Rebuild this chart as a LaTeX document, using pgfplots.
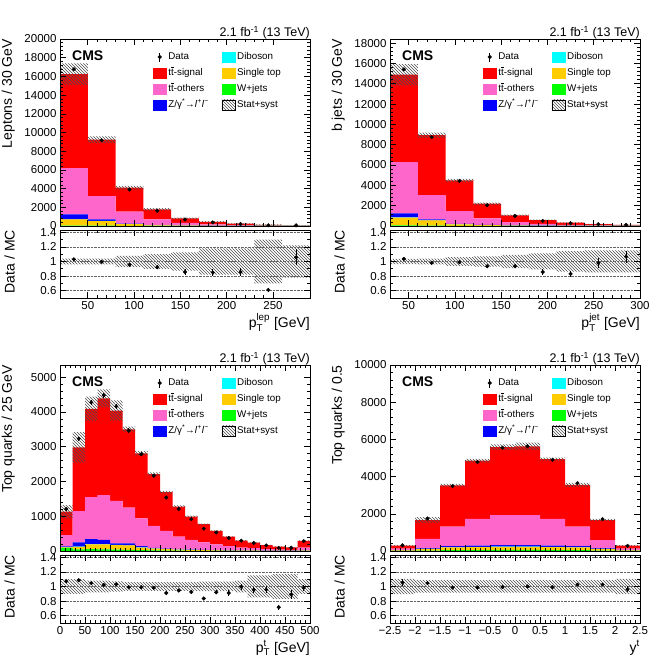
\documentclass[border=0pt]{standalone}
\usepackage{amsmath}
\usepackage{fontspec}
\setmainfont{Liberation Sans}
\usepackage{pgfplots}
\usepackage{pgfplotstable}
\pgfplotsset{compat=1.18}
\usetikzlibrary{patterns}

\definecolor{sigcol}{RGB}{255,0,0}
\definecolor{othcol}{RGB}{255,102,204}
\definecolor{dycol}{RGB}{0,0,255}
\definecolor{vvcol}{RGB}{0,255,255}
\definecolor{stcol}{RGB}{255,204,0}
\definecolor{wjcol}{RGB}{0,255,0}
\colorlet{hatchcol}{black!70}

% columns: bin centre, stacked backgrounds/signal, MC uncertainty (abs), data, data error,
% data/MC ratio, ratio error, relative MC uncertainty
\pgfplotstableread{
x    wj   st   vv   dy   oth   sig    eunc  data   derr  ratio  rerr   runc
35   50   650  20   520  4960  10050  1150  16770  130   1.03   0.008  0.04
65   30   500  15   170  2480  6040   360   9170   96    0.995  0.011  0.04
95   15   180  8    60   1270  2560   200   3900   62    0.955  0.016  0.077
125  8    70   4    25   590   1080   130   1630   40    0.92   0.025  0.10
155  4    30   2    12   290   470    80    690    26    0.855  0.035  0.125
185  2    15   1    6    150   280    60    386    20    0.85   0.045  0.18
215  1    8    1    3    85    150    40    212    15    0.855  0.06   0.18
245  1    4    0.5  2    45    75     35    78     9     0.61   0.03   0.30
275  0.5  2    0.3  1    25    40     15    73     9     1.055  0.11   0.22
}\leptab

\pgfplotstableread{
x    wj   st   vv   dy    oth   sig   eunc  data   derr  ratio  rerr   runc
45   50   770  20   400   5040  8610  1050  15410  124   1.035  0.008  0.035
75   30   520  15   85    2390  5890  250   8750   94    0.98   0.011  0.04
105  12   158  6    44    1250  3010  150   4435   67    0.99   0.015  0.06
135  6    69   3    22    650   1440  100   2048   45    0.935  0.022  0.07
165  3    35   1.5  10.5  340   660   60    982    31    0.935  0.03   0.09
195  2    17   1    5     175   390   40    504    22    0.855  0.04   0.11
225  1    9    0.5  3.5   96    220   30    274    17    0.83   0.045  0.14
255  0.5  5.5  0.3  2.2   52    120   25    176    13    0.98   0.07   0.15
285  0.3  2.7  0.2  0.8   31    65    15    106    10    1.065  0.08   0.15
}\jettab

\pgfplotstableread{
x      wj   st   vv   dy   oth   sig   eunc  data  derr  ratio  rerr   runc
12.5   90   15   3    22   330   670   190   1209  35    1.07   0.02   0.10
37.5   50   70   5    125  900   1830  440   3233  57    1.085  0.015  0.10
62.5   55   135  6    144  1210  2540  350   4274  65    1.045  0.012  0.08
87.5   50   140  6    124  1290  2780  260   4478  67    1.02   0.012  0.08
112.5  40   130  5    45   1220  2600  290   4161  65    1.03   0.012  0.07
137.5  35   125  5    55   1030  2250  80    3465  59    0.99   0.012  0.06
162.5  22   78   4    36   800   1870  60    2782  53    0.99   0.015  0.06
187.5  16   54   3    17   630   1490  50    2166  47    0.98   0.016  0.06
212.5  12   43   2    13   510   1110  40    1538  39    0.91   0.018  0.06
237.5  9    31   2    8    360   870   30    1210  35    0.945  0.022  0.06
262.5  7    23   1.5  8.5  280   670   25    916   30    0.925  0.025  0.06
287.5  5    19   1    5    220   520   20    643   25    0.835  0.027  0.065
312.5  4    14   1    3    168   390   15    534   23    0.92   0.03   0.065
337.5  3    10   0.8  2.2  124   270   12    373   19    0.91   0.035  0.065
362.5  2.5  7.5  0.6  1.4  88    200   10    299   17    0.995  0.04   0.08
387.5  2    6    0.5  1.5  70    160   10    229   15    0.955  0.04   0.15
412.5  1.5  4.5  0.4  0.6  48    115   8     163   13    0.957  0.045  0.15
437.5  1    3    0.3  0.7  35    85    6     89    9     0.715  0.035  0.17
462.5  1    2    0.3  0.7  31    70    5     93    10    0.89   0.06   0.17
487.5  3    7    0.8  1.2  83    195   15    284   17    0.98   0.04   0.10
}\topptab

\pgfplotstableread{
x      wj   st   vv   dy   oth   sig   eunc  data  derr  ratio  rerr   runc
-2.25  10   28   2    8    80    160   30    306   17    1.055  0.05   0.105
-1.75  25   72   3    37   510   1020  150   1745  42    1.045  0.025  0.085
-1.25  45   150  5    65   1040  2230  80    3487  59    0.985  0.017  0.085
-0.75  50   155  5    75   1440  3130  100   4787  69    0.985  0.015  0.085
-0.25  55   170  5    85   1620  3650  150   5551  75    0.993  0.014  0.085
0.25   55   170  5    85   1620  3690  200   5630  75    1.0    0.014  0.085
0.75   50   155  5    75   1440  3220  80    4900  70    0.99   0.015  0.085
1.25   45   150  5    65   1040  2250  110   3649  60    1.025  0.017  0.085
1.75   25   72   3    37   450   1080  60    1712  41    1.025  0.025  0.085
2.25   10   28   2    8    80    160   30    278   17    0.96   0.04   0.105
}\toprtab

\newcommand{\mctot}{\thisrow{wj}+\thisrow{st}+\thisrow{vv}+\thisrow{dy}+\thisrow{oth}+\thisrow{sig}}
% t with a bar above, kept as one word
\newcommand{\tbar}{\ooalign{t\cr\hidewidth\raisebox{0.78em}{\rule{0.32em}{0.07em}}\hidewidth\cr}}

\pgfplotsset{
  cmsbase/.style={
    scale only axis, width=250pt, enlargelimits=false, clip mode=individual,
    tick align=inside, major tick length=6pt, minor tick length=3pt,
    every tick/.append style={black, line width=0.6pt},
    axis line style={line width=0.9pt},
    tick label style={font=\fontsize{11.5}{12}\selectfont},
    /pgf/number format/assume math mode=true,
    /pgf/number format/1000 sep={},
    scaled ticks=false,
    every axis y label/.style={at={(rel axis cs:0,1)}, xshift=-45pt, rotate=90,
      anchor=south east, inner sep=0pt, font=\fontsize{14}{14}\selectfont},
    every axis x label/.style={at={(rel axis cs:1,0)}, yshift=-29pt,
      anchor=base east, inner sep=0pt, font=\fontsize{14}{14}\selectfont},
  },
  stackax/.style={cmsbase, hide axis, ybar stacked},
  mainax/.style={cmsbase, ymin=0, xticklabels={}, minor y tick num=4, minor x tick num=4,
    legend columns=2, legend cell align=left,
    legend style={draw=none, fill=none, at={(0,1)}, anchor=north west,
      xshift=93pt, yshift=-12.5pt, inner sep=0pt, outer sep=0pt, row sep=5pt,
      font=\fontsize{9.8}{10}\selectfont,
      nodes={inner sep=0pt, text height=7pt, text depth=2pt},
      /tikz/every even column/.append style={column sep=13pt}}},
  ratioax/.style={cmsbase, height=68pt, ymin=0.5, ymax=1.43,
    ytick={0.6,0.8,1,1.2,1.4}, minor y tick num=1, minor x tick num=4,
    ymajorgrids, major grid style={densely dotted, black!60, line width=0.6pt},
    ylabel={Data / MC}},
  legbox/.style={legend image code/.code={\fill[#1] (0pt,-5.3pt) rectangle (13pt,5.3pt); \path (15pt,0pt);}},
  leghatch/.style={legend image code/.code={\fill[pattern=north west lines, pattern color=hatchcol] (0pt,-5.3pt) rectangle (13pt,5.3pt); \path (15pt,0pt);}},
  legdata/.style={legend image code/.code={\draw[line width=0.9pt] (6.5pt,-4.5pt)--(6.5pt,4.5pt); \fill (6.5pt,0pt) circle (1.8pt); \path (0pt,0pt) (15pt,0pt);}},
}

% stacked MC contributions, bottom to top
\newcommand{\stackbars}[1]{%
  \addplot[fill=wjcol, draw=none] table[x=x, y=wj] {#1};
  \addplot[fill=stcol, draw=none] table[x=x, y=st] {#1};
  \addplot[fill=vvcol, draw=none] table[x=x, y=vv] {#1};
  \addplot[fill=dycol, draw=none] table[x=x, y=dy] {#1};
  \addplot[fill=othcol, draw=none] table[x=x, y=oth] {#1};
  \addplot[fill=sigcol, draw=none] table[x=x, y=sig] {#1};
}
% hatched stat+syst band around the MC total
\newcommand{\mcband}[1]{%
  \addplot[draw=none, fill=none] table[x=x, y expr=\mctot-\thisrow{eunc}] {#1};
  \addplot[draw=none, pattern=north west lines, pattern color=hatchcol] table[x=x, y expr=2*\thisrow{eunc}] {#1};
}
\newcommand{\ratioband}[1]{%
  \addplot[draw=none, fill=none] table[x=x, y expr=1-\thisrow{runc}] {#1};
  \addplot[draw=none, pattern=north west lines, pattern color=hatchcol] table[x=x, y expr=2*\thisrow{runc}] {#1};
}
\newcommand{\dataplot}[3]{%
  \addplot[black, only marks, mark=*, mark size=1.8pt, forget plot,
    error bars/.cd, y dir=both, y explicit, error mark=none,
    error bar style={line width=0.9pt}]
    table[x=x, y=#2, y error=#3] {#1};
}
\newcommand{\cmslegend}{%
  \addlegendimage{legdata}\addlegendentry{Data}
  \addlegendimage{legbox=vvcol}\addlegendentry{Diboson}
  \addlegendimage{legbox=sigcol}\addlegendentry{t\tbar-signal}
  \addlegendimage{legbox=stcol}\addlegendentry{Single top}
  \addlegendimage{legbox=othcol}\addlegendentry{t\tbar-others}
  \addlegendimage{legbox=wjcol}\addlegendentry{W+jets}
  \addlegendimage{legbox=dycol}\addlegendentry{Z/γ\textsuperscript{*}→\textit{l}\textsuperscript{+}\textit{l}\textsuperscript{−}}
  \addlegendimage{leghatch}\addlegendentry{Stat+syst}
}
\newcommand{\cmstext}{%
  \node[anchor=west, xshift=12pt, yshift=-17pt, inner sep=0pt,
    font=\fontsize{14}{14}\selectfont\bfseries] at (rel axis cs:0,1) {CMS};
  \node[anchor=base east, yshift=2.5pt, inner sep=0pt,
    font=\fontsize{12.5}{13}\selectfont] at (rel axis cs:1,1) {2.1 fb\textsuperscript{-1} (13 TeV)};
}

\begin{document}
\begin{tikzpicture}
\path[use as bounding box] (0pt,0pt) rectangle (655pt,-661pt);

% ---------------- lepton pT ----------------
\begin{axis}[stackax, at={(60pt,-39pt)}, anchor=north west, height=187pt,
  xmin=20, xmax=290, ymin=0, ymax=20000, bar width=30]
  \stackbars{\leptab}
\end{axis}
\begin{axis}[stackax, at={(60pt,-39pt)}, anchor=north west, height=187pt,
  xmin=20, xmax=290, ymin=0, ymax=20000, bar width=30]
  \mcband{\leptab}
\end{axis}
\begin{axis}[mainax, at={(60pt,-39pt)}, anchor=north west, height=187pt,
  xmin=20, xmax=290, ymax=20000, xtick={50,100,...,250}, ytick={0,2000,...,20000},
  ylabel={Leptons / 30 GeV}]
  \cmslegend
  \dataplot{\leptab}{data}{derr}
  \cmstext
\end{axis}
\begin{axis}[stackax, at={(60pt,-230pt)}, anchor=north west, height=68pt,
  xmin=20, xmax=290, ymin=0.5, ymax=1.43, bar width=30]
  \ratioband{\leptab}
\end{axis}
\begin{axis}[ratioax, at={(60pt,-230pt)}, anchor=north west,
  xmin=20, xmax=290, xtick={50,100,...,250},
  xlabel={p$^{\text{lep}}_{\text{T}}$ [GeV]}]
  \dataplot{\leptab}{ratio}{rerr}
\end{axis}

% ---------------- b jet pT ----------------
\begin{axis}[stackax, at={(390pt,-39pt)}, anchor=north west, height=187pt,
  xmin=30, xmax=300, ymin=0, ymax=18400, bar width=30]
  \stackbars{\jettab}
\end{axis}
\begin{axis}[stackax, at={(390pt,-39pt)}, anchor=north west, height=187pt,
  xmin=30, xmax=300, ymin=0, ymax=18400, bar width=30]
  \mcband{\jettab}
\end{axis}
\begin{axis}[mainax, at={(390pt,-39pt)}, anchor=north west, height=187pt,
  xmin=30, xmax=300, ymax=18400, xtick={50,100,...,300}, ytick={0,2000,...,18000},
  ylabel={b jets / 30 GeV}]
  \cmslegend
  \dataplot{\jettab}{data}{derr}
  \cmstext
\end{axis}
\begin{axis}[stackax, at={(390pt,-230pt)}, anchor=north west, height=68pt,
  xmin=30, xmax=300, ymin=0.5, ymax=1.43, bar width=30]
  \ratioband{\jettab}
\end{axis}
\begin{axis}[ratioax, at={(390pt,-230pt)}, anchor=north west,
  xmin=30, xmax=300, xtick={50,100,...,300},
  xlabel={p$^{\text{jet}}_{\text{T}}$ [GeV]}]
  \dataplot{\jettab}{ratio}{rerr}
\end{axis}

% ---------------- top quark pT ----------------
\begin{axis}[stackax, at={(60pt,-365pt)}, anchor=north west, height=186pt,
  xmin=0, xmax=500, ymin=0, ymax=5350, bar width=25]
  \stackbars{\topptab}
\end{axis}
\begin{axis}[stackax, at={(60pt,-365pt)}, anchor=north west, height=186pt,
  xmin=0, xmax=500, ymin=0, ymax=5350, bar width=25]
  \mcband{\topptab}
\end{axis}
\begin{axis}[mainax, at={(60pt,-365pt)}, anchor=north west, height=186pt,
  xmin=0, xmax=500, ymax=5350, xtick={0,50,...,500}, ytick={0,1000,...,5000},
  ylabel={Top quarks / 25 GeV}]
  \cmslegend
  \dataplot{\topptab}{data}{derr}
  \cmstext
\end{axis}
\begin{axis}[stackax, at={(60pt,-555pt)}, anchor=north west, height=68pt,
  xmin=0, xmax=500, ymin=0.5, ymax=1.43, bar width=25]
  \ratioband{\topptab}
\end{axis}
\begin{axis}[ratioax, at={(60pt,-555pt)}, anchor=north west,
  xmin=0, xmax=500, xtick={0,50,...,500},
  xlabel={p$^{\text{t}}_{\text{T}}$ [GeV]}]
  \dataplot{\topptab}{ratio}{rerr}
\end{axis}

% ---------------- top quark rapidity ----------------
\begin{axis}[stackax, at={(390pt,-365pt)}, anchor=north west, height=186pt,
  xmin=-2.5, xmax=2.5, ymin=0, ymax=10000, bar width=0.5]
  \stackbars{\toprtab}
\end{axis}
\begin{axis}[stackax, at={(390pt,-365pt)}, anchor=north west, height=186pt,
  xmin=-2.5, xmax=2.5, ymin=0, ymax=10000, bar width=0.5]
  \mcband{\toprtab}
\end{axis}
\begin{axis}[mainax, at={(390pt,-365pt)}, anchor=north west, height=186pt,
  xmin=-2.5, xmax=2.5, ymax=10000, xtick={-2.5,-2,...,2.5}, ytick={0,2000,...,10000},
  ylabel={Top quarks / 0.5}]
  \cmslegend
  \dataplot{\toprtab}{data}{derr}
  \cmstext
\end{axis}
\begin{axis}[stackax, at={(390pt,-555pt)}, anchor=north west, height=68pt,
  xmin=-2.5, xmax=2.5, ymin=0.5, ymax=1.43, bar width=0.5]
  \ratioband{\toprtab}
\end{axis}
\begin{axis}[ratioax, at={(390pt,-555pt)}, anchor=north west,
  xmin=-2.5, xmax=2.5, xtick={-2.5,-2,...,2.5},
  xticklabels={−2.5,−2,−1.5,−1,−0.5,0,0.5,1,1.5,2,2.5},
  xlabel={y$^{\text{t}}$}]
  \dataplot{\toprtab}{ratio}{rerr}
\end{axis}
\end{tikzpicture}
\end{document}
